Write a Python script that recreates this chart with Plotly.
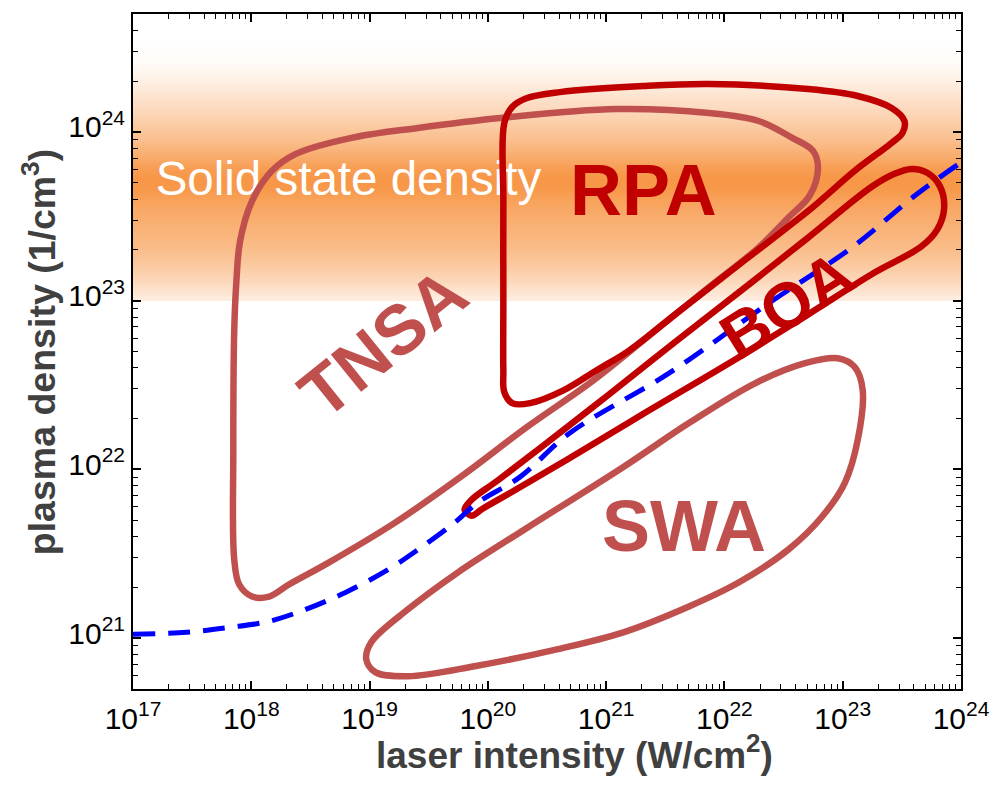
import plotly.graph_objects as go

# ---------------- data (log10 values) ----------------
x_tick_exp = [17, 18, 19, 20, 21, 22, 23, 24]
y_tick_exp = [21, 22, 23, 24]
x_tick_text = ["10<sup>%d</sup>" % e for e in x_tick_exp]
y_tick_text = ["10<sup>%d</sup>" % e for e in y_tick_exp]

# solid-state density band: log10 density (centres) and colour level
band_logn = [23.019, 23.061, 23.149, 23.238, 23.327, 23.415, 23.504, 23.592,
             23.663, 23.722, 23.781, 23.858, 23.947, 24.035, 24.124, 24.213,
             24.301, 24.390, 24.467]
band_level = [0.18, 0.28, 0.42, 0.55, 0.65, 0.72, 0.80, 0.88,
              0.97, 1.00, 0.93, 0.78, 0.62, 0.50, 0.38, 0.27,
              0.15, 0.06, 0.0]
band_bottom, band_top = 23.0, 24.699

# TNSA region
tnsa_logI = [17.848, 17.856, 17.873, 17.906, 18.007, 18.175, 18.377, 18.847, 19.409,
             20.106, 21.088, 21.868, 22.288, 22.573, 22.749, 22.791, 22.720, 22.540,
             22.288, 21.868, 21.449, 20.895, 20.332, 19.770, 19.216, 18.654, 18.318,
             18.150, 18.007, 17.898, 17.856, 17.848]
tnsa_logn = [22.116, 22.825, 23.102, 23.356, 23.592, 23.770, 23.870, 23.965, 24.024,
             24.083, 24.136, 24.112, 24.065, 23.965, 23.888, 23.787, 23.622, 23.492,
             23.315, 23.079, 22.842, 22.529, 22.252, 21.956, 21.685, 21.448, 21.318,
             21.247, 21.247, 21.318, 21.466, 22.116]

# RPA region
rpa_logI = [20.131, 20.131, 20.139, 20.206, 20.332, 20.609, 21.314, 21.868, 22.708,
            23.127, 23.413, 23.522, 23.505, 23.413, 23.102, 22.741, 22.179, 21.616,
            21.197, 20.920, 20.643, 20.357, 20.206, 20.139, 20.131, 20.131]
rpa_logn = [23.002, 23.592, 24.053, 24.148, 24.201, 24.236, 24.272, 24.284, 24.254,
            24.213, 24.142, 24.065, 23.994, 23.935, 23.770, 23.551, 23.244, 22.937,
            22.706, 22.588, 22.470, 22.393, 22.393, 22.458, 22.588, 23.002]

# BOA region
boa_logI = [21.029, 21.591, 22.154, 22.708, 23.245, 23.438, 23.580, 23.715, 23.824,
            23.857, 23.799, 23.664, 23.270, 22.708, 22.095, 21.339, 20.668, 20.206,
            19.955, 19.862, 19.803, 19.862, 20.080, 20.475, 21.029]
boa_logn = [22.447, 22.760, 23.067, 23.374, 23.675, 23.752, 23.781, 23.758, 23.675,
            23.545, 23.421, 23.321, 23.167, 22.919, 22.653, 22.340, 22.057, 21.868,
            21.767, 21.726, 21.761, 21.820, 21.933, 22.145, 22.447]

# SWA region
swa_logI = [20.584, 19.887, 19.325, 19.048, 18.972, 19.014, 19.325, 19.745, 20.307,
            21.146, 21.700, 22.263, 22.682, 22.959, 23.102, 23.169, 23.127, 23.018,
            22.825, 22.540, 22.120, 21.700, 21.146, 20.584]
swa_logn = [20.934, 20.834, 20.775, 20.799, 20.875, 20.976, 21.171, 21.389, 21.643,
            22.015, 22.275, 22.512, 22.630, 22.659, 22.606, 22.470, 22.175, 21.921,
            21.720, 21.525, 21.330, 21.188, 21.035, 20.934]

# relativistic critical density (blue dashed)
crit_logI = [17.0, 17.453, 17.814, 18.150, 18.460, 18.796, 19.157, 19.434, 19.719,
             19.913, 20.273, 20.693, 21.532, 22.372, 23.077, 23.631, 23.983]
crit_logn = [21.023, 21.035, 21.064, 21.100, 21.171, 21.271, 21.407, 21.537, 21.685,
             21.803, 21.956, 22.216, 22.571, 22.984, 23.315, 23.634, 23.811]

# labels: text, log10 I, log10 n, angle, colour, size
labels = [
    ("RPA", 21.314, 23.657, 0, "#C00000", 72),
    ("TNSA", 19.115, 22.748, -39, "#C0504D", 70),
    ("BOA", 22.531, 22.972, -32, "#C00000", 64),
    ("SWA", 21.658, 21.667, 0, "#C0504D", 72),
]
solid_label = ("Solid state density", 18.821, 23.699)

# ---------------- figure ----------------
def p10(a):
    return [10.0 ** v for v in a]

FONT = "Liberation Sans, Arial, sans-serif"
fig = go.Figure()

# orange band as a smooth heatmap
edges = [band_bottom] + [(band_logn[i] + band_logn[i + 1]) / 2 for i in range(len(band_logn) - 1)] + [band_top]
fig.add_trace(go.Heatmap(
    x=[1e17, 1e20, 1e24], y=p10(edges),
    z=[[v, v] for v in band_level],
    zmin=0, zmax=1, zsmooth="best", showscale=False, hoverinfo="skip",
    colorscale=[[0, "#FFFFFF"], [1, "#F79646"]],
))

fig.add_trace(go.Scatter(
    x=[10.0 ** solid_label[1]], y=[10.0 ** solid_label[2]], mode="text",
    text=[solid_label[0]], textposition="middle center",
    textfont=dict(family=FONT, size=47.5, color="white"), hoverinfo="skip", showlegend=False))

for lx, ly, col in [(tnsa_logI, tnsa_logn, "#C0504D"), (swa_logI, swa_logn, "#C0504D"),
                    (rpa_logI, rpa_logn, "#C00000"), (boa_logI, boa_logn, "#C00000")]:
    fig.add_trace(go.Scatter(x=p10(lx), y=p10(ly), mode="lines",
                             line=dict(color=col, width=6.5, shape="spline", smoothing=1.0),
                             hoverinfo="skip", showlegend=False))

fig.add_trace(go.Scatter(x=p10(crit_logI), y=p10(crit_logn), mode="lines",
                         line=dict(color="#0000FF", width=5, dash="22px,13px", shape="spline"),
                         hoverinfo="skip", showlegend=False))

annotations = []
for txt, lx, ly, ang, col, sz in labels:
    annotations.append(dict(x=lx, y=ly, xref="x", yref="y", text="<b>%s</b>" % txt,
                            showarrow=False, textangle=ang,
                            font=dict(family=FONT, size=sz, color=col)))
annotations.append(dict(x=0.5336, y=-0.0947, xref="paper", yref="paper",
                        text="<b>laser intensity (W/cm<sup>2</sup>)</b>", showarrow=False,
                        xanchor="center", yanchor="middle",
                        font=dict(family=FONT, size=37, color="#404040")))
annotations.append(dict(x=-0.1139, y=0.4985, xref="paper", yref="paper",
                        text="<b>plasma density (1/cm<sup>3</sup>)</b>", showarrow=False,
                        textangle=-90, xanchor="center", yanchor="middle",
                        font=dict(family=FONT, size=37.5, color="#404040")))

axis_common = dict(type="log", showgrid=False, zeroline=False, showline=True, linecolor="black",
                   linewidth=2, mirror="ticks", ticks="inside", ticklen=8, tickwidth=1.5,
                   tickcolor="black", tickfont=dict(family=FONT, size=30, color="black"),
                   minor=dict(ticks="inside", ticklen=5, tickwidth=1, tickcolor="black",
                              dtick="D1", showgrid=False))

fig.update_layout(
    width=1002, height=788, margin=dict(l=133, r=35, t=13, b=99),
    paper_bgcolor="white", plot_bgcolor="white", showlegend=False,
    xaxis=dict(axis_common, range=[17, 24], tickvals=p10(x_tick_exp), ticktext=x_tick_text,
               ticklabelstandoff=2),
    yaxis=dict(axis_common, range=[20.699, 24.699], tickvals=p10(y_tick_exp), ticktext=y_tick_text,
               ticklabelshift=-5),
    annotations=annotations,
)

fig.write_html("out.html")
